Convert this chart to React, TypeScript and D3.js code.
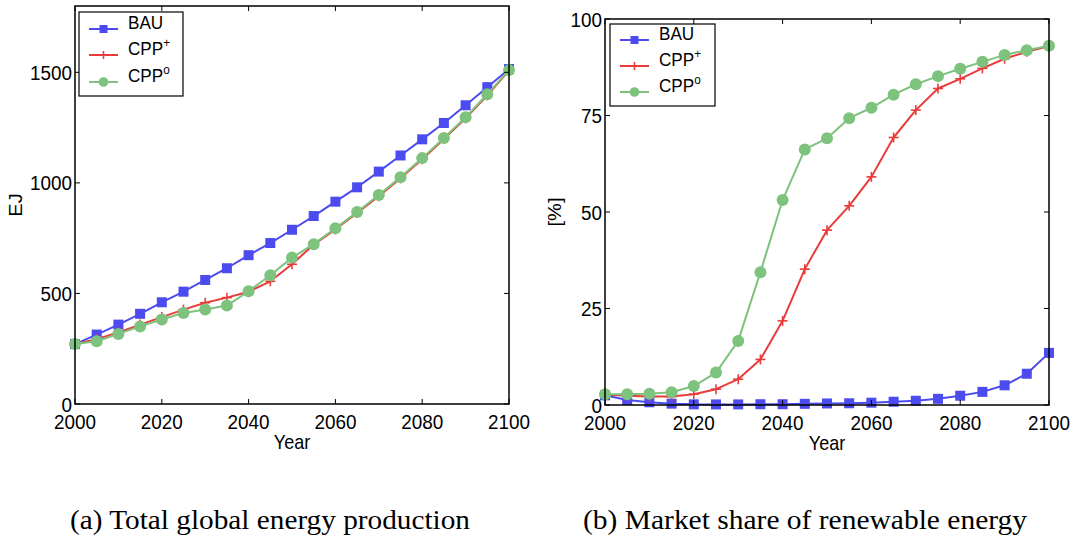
import React from "react";
import * as d3 from "d3";

// Scenario years (every 5 years)
const years = [2000, 2005, 2010, 2015, 2020, 2025, 2030, 2035, 2040, 2045, 2050, 2055, 2060, 2065, 2070, 2075, 2080, 2085, 2090, 2095, 2100];

// (a) Total global energy production [EJ]
const energyBAU = [271, 314, 359, 408, 460, 508, 561, 614, 673, 728, 788, 850, 915, 980, 1051, 1124, 1197, 1271, 1351, 1433, 1515];
const energyCPPplus = [271, 293, 324, 359, 393, 427, 458, 481, 508, 555, 632, 721, 790, 864, 940, 1021, 1107, 1198, 1292, 1396, 1508];
const energyCPPo = [271, 284, 317, 351, 382, 412, 427, 445, 510, 582, 662, 723, 795, 868, 945, 1026, 1112, 1203, 1297, 1401, 1510];

// (b) Market share of renewable energy [%]
const shareBAU = [2.5, 1.3, 0.7, 0.35, 0.17, 0.15, 0.15, 0.2, 0.2, 0.3, 0.4, 0.45, 0.6, 0.85, 1.1, 1.6, 2.4, 3.4, 5.1, 8.1, 13.5];
const shareCPPplus = [2.7, 2.4, 2.2, 2.2, 2.8, 4.1, 6.7, 11.8, 21.8, 35.2, 45.3, 51.6, 59.1, 69.3, 76.4, 82.0, 84.5, 87.2, 89.7, 91.5, 93.0];
const shareCPPo = [2.8, 2.8, 2.9, 3.3, 4.9, 8.4, 16.6, 34.4, 53.1, 66.2, 69.1, 74.3, 77.0, 80.4, 83.1, 85.2, 87.1, 88.9, 90.7, 91.9, 93.1];

const xTicks = [2000, 2020, 2040, 2060, 2080, 2100];
const energyTicks = [0, 500, 1000, 1500];
const shareTicks = [0, 25, 50, 75, 100];

const BLUE = "#4b4bef";
const RED = "#ea3b3b";
const GREEN = "#7dc27d";

const FONT = "'Liberation Sans', Arial, Helvetica, sans-serif";
const SERIF = "'Liberation Serif', 'Times New Roman', serif";
const SQUEEZE = 0.9;

type Series = { key: string; sup: string; color: string; marker: "square" | "plus" | "circle"; values: number[] };

// Slightly condensed sans-serif label
function Label(props: { x: number; y: number; size: number; anchor?: string; rotate?: boolean; dy?: string; children: React.ReactNode }) {
  const { x, y, size, anchor = "start", rotate = false, dy, children } = props;
  return (
    <g transform={`translate(${x},${y}) scale(${SQUEEZE},1)${rotate ? " rotate(-90)" : ""}`}>
      <text x={0} y={0} dy={dy} textAnchor={anchor} fontFamily={FONT} fontSize={size} fill="#000">{children}</text>
    </g>
  );
}

function Marker({ type, x, y, color, s = 1 }: { type: Series["marker"]; x: number; y: number; color: string; s?: number }) {
  if (type === "square") return <rect x={x - 5 * s} y={y - 5 * s} width={10 * s} height={10 * s} fill={color} />;
  if (type === "circle") return <circle cx={x} cy={y} r={6 * s} fill={color} />;
  return (
    <g stroke={color} strokeWidth={1.6}>
      <line x1={x - 5 * s} x2={x + 5 * s} y1={y} y2={y} />
      <line x1={x} x2={x} y1={y - 5 * s} y2={y + 5 * s} />
    </g>
  );
}

function Panel(props: {
  left: number; right: number; top: number; bottom: number;
  yMax: number; yTicks: number[]; yLabel: string; yLabelX: number;
  series: Series[];
  legend: { x: number; y: number; w: number; h: number; rows: number[] };
}) {
  const { left, right, top, bottom, yMax, yTicks, yLabel, yLabelX, series, legend } = props;
  const x = d3.scaleLinear().domain([2000, 2100]).range([left, right]);
  const y = d3.scaleLinear().domain([0, yMax]).range([bottom, top]);
  const line = d3.line<number>().x((_, i) => x(years[i])).y((d) => y(d));
  const tl = 5;
  return (
    <g>
      {series.map((s) => (
        <g key={s.key + s.sup}>
          <path d={line(s.values) || ""} fill="none" stroke={s.color} strokeWidth={2} strokeLinejoin="round" />
          {s.values.map((v, i) => (
            <Marker key={i} type={s.marker} x={x(years[i])} y={y(v)} color={s.color} />
          ))}
        </g>
      ))}
      <rect x={left} y={top} width={right - left} height={bottom - top} fill="none" stroke="#000" strokeWidth={1.5} />
      {xTicks.map((t) => (
        <g key={t}>
          <line x1={x(t)} x2={x(t)} y1={bottom} y2={bottom - tl} stroke="#000" strokeWidth={1} />
          <line x1={x(t)} x2={x(t)} y1={top} y2={top + tl} stroke="#000" strokeWidth={1} />
          <Label x={x(t)} y={bottom + 25} size={21} anchor="middle">{t}</Label>
        </g>
      ))}
      {yTicks.map((t) => (
        <g key={t}>
          <line x1={left} x2={left + tl} y1={y(t)} y2={y(t)} stroke="#000" strokeWidth={1} />
          <line x1={right} x2={right - tl} y1={y(t)} y2={y(t)} stroke="#000" strokeWidth={1} />
          <Label x={left - 3} y={y(t)} dy="0.36em" size={21} anchor="end">{t}</Label>
        </g>
      ))}
      <Label x={(left + right) / 2} y={bottom + 45} size={20} anchor="middle">Year</Label>
      <Label x={yLabelX} y={(top + bottom) / 2} size={20} anchor="middle" rotate>{yLabel}</Label>
      <rect x={legend.x} y={legend.y} width={legend.w} height={legend.h} fill="#fff" stroke="#000" strokeWidth={1.2} />
      {series.map((s, i) => {
        const ry = legend.rows[i];
        const lx0 = legend.x + 10;
        const lx1 = legend.x + 39;
        return (
          <g key={s.key + s.sup}>
            <line x1={lx0} x2={lx1} y1={ry} y2={ry} stroke={s.color} strokeWidth={2} />
            <Marker type={s.marker} x={(lx0 + lx1) / 2} y={ry} color={s.color} s={0.8} />
            <Label x={legend.x + 49} y={ry} size={19}>
              {s.key}
              {s.sup ? <tspan fontSize={13} dy={-8}>{s.sup}</tspan> : null}
            </Label>
          </g>
        );
      })}
    </g>
  );
}

export default function App() {
  const energySeries: Series[] = [
    { key: "BAU", sup: "", color: BLUE, marker: "square", values: energyBAU },
    { key: "CPP", sup: "+", color: RED, marker: "plus", values: energyCPPplus },
    { key: "CPP", sup: "o", color: GREEN, marker: "circle", values: energyCPPo },
  ];
  const shareSeries: Series[] = [
    { key: "BAU", sup: "", color: BLUE, marker: "square", values: shareBAU },
    { key: "CPP", sup: "+", color: RED, marker: "plus", values: shareCPPplus },
    { key: "CPP", sup: "o", color: GREEN, marker: "circle", values: shareCPPo },
  ];
  return (
    <svg width={1071} height={537} style={{ position: "absolute", left: 0, top: 0, background: "#fff" }}>
      <rect width={1071} height={537} fill="#fff" />
      <Panel
        left={75} right={509} top={6} bottom={404}
        yMax={1800} yTicks={energyTicks} yLabel="EJ" yLabelX={22}
        series={energySeries}
        legend={{ x: 79, y: 12, w: 104, h: 84, rows: [29, 55, 82] }}
      />
      <Panel
        left={605} right={1049} top={19} bottom={405}
        yMax={100} yTicks={shareTicks} yLabel="[%]" yLabelX={561}
        series={shareSeries}
        legend={{ x: 610, y: 24, w: 105, h: 82, rows: [40, 66, 92] }}
      />
      <text x={270} y={529} textAnchor="middle" fontFamily={SERIF} fontSize={28} fill="#000" textLength={400} lengthAdjust="spacingAndGlyphs">(a) Total global energy production</text>
      <text x={805} y={529} textAnchor="middle" fontFamily={SERIF} fontSize={28} fill="#000" textLength={444} lengthAdjust="spacingAndGlyphs">(b) Market share of renewable energy</text>
    </svg>
  );
}
